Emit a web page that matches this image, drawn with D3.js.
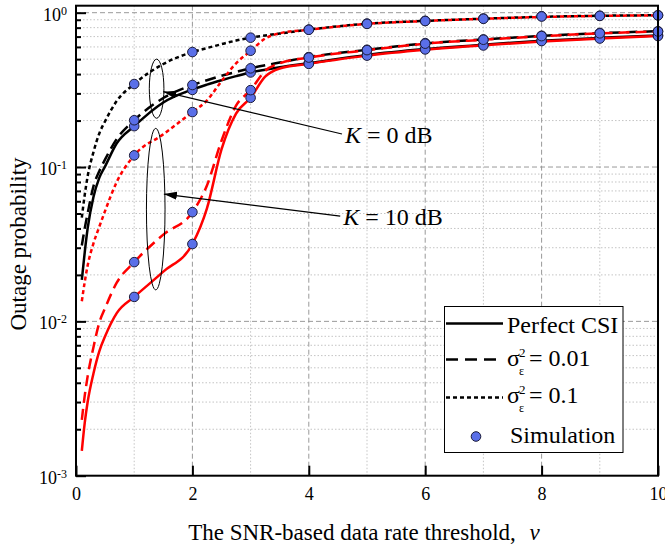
<!DOCTYPE html>
<html>
<head>
<meta charset="utf-8">
<script src="https://cdn.jsdelivr.net/npm/d3@7"></script>
<style>
body { margin: 0; background: #fff; }
svg text { font-family: "Liberation Serif", "Times New Roman", serif; fill: #000; }
</style>
</head>
<body>
<svg id="chart" width="665" height="548"></svg>
<script>
// threshold values where the analytical curves were read
var rate_x = [0.1, 0.15, 0.2, 0.3, 0.4, 0.5, 0.7, 1, 1.5, 2, 2.25, 2.5, 2.75, 3, 3.25, 3.5, 4, 5, 6, 7, 8, 9, 10];

// K = 0 dB
var k0_perfect = [0.0186, 0.028, 0.040, 0.064, 0.085, 0.101, 0.1425, 0.184, 0.262, 0.318, 0.342, 0.365, 0.388, 0.41, 0.427, 0.443, 0.471, 0.533, 0.581, 0.621, 0.658, 0.687, 0.713];
var k0_s001 = [0.031, 0.040, 0.050, 0.075, 0.094, 0.112, 0.152, 0.201, 0.28, 0.34, 0.365, 0.39, 0.413, 0.436, 0.456, 0.475, 0.516, 0.575, 0.632, 0.671, 0.707, 0.737, 0.758];
var k0_s01 = [0.047, 0.066, 0.087, 0.125, 0.165, 0.198, 0.268, 0.345, 0.465, 0.556, 0.59, 0.625, 0.66, 0.689, 0.712, 0.732, 0.777, 0.848, 0.885, 0.915, 0.94, 0.955, 0.963];

// K = 10 dB
var k10_perfect = [0.00145, 0.0022, 0.003, 0.0046, 0.0064, 0.008, 0.0113, 0.0144, 0.021, 0.0317, 0.054, 0.13, 0.222, 0.281, 0.385, 0.435, 0.466, 0.527, 0.575, 0.615, 0.651, 0.68, 0.706];
var k10_s001 = [0.0023, 0.0033, 0.0044, 0.0068, 0.0098, 0.0122, 0.0178, 0.0242, 0.0365, 0.051, 0.076, 0.148, 0.25, 0.315, 0.42, 0.47, 0.512, 0.572, 0.63, 0.668, 0.704, 0.734, 0.755];
var k10_s01 = [0.0135, 0.018, 0.023, 0.032, 0.041, 0.052, 0.08, 0.119, 0.163, 0.227, 0.27, 0.36, 0.47, 0.565, 0.68, 0.735, 0.775, 0.846, 0.883, 0.913, 0.938, 0.953, 0.961];

// simulation points
var sim_x = [1, 2, 3, 4, 5, 6, 7, 8, 9, 10];
var sim_k0_perfect = [0.184, 0.316, 0.41, 0.471, 0.533, 0.584, 0.619, 0.661, 0.686, 0.713];
var sim_k0_s001 = [0.201, 0.34, 0.436, 0.516, 0.575, 0.635, 0.671, 0.709, 0.739, 0.758];
var sim_k0_s01 = [0.345, 0.556, 0.689, 0.777, 0.85, 0.885, 0.917, 0.949, 0.955, 0.963];
var sim_k10_perfect = [0.0144, 0.0317, 0.281, 0.466, 0.527, 0.578, 0.613, 0.655, 0.68, 0.706];
var sim_k10_s001 = [0.0242, 0.051, 0.315, 0.512, 0.572, 0.63, 0.668, 0.705, 0.735, 0.755];
var sim_k10_s01 = [0.119, 0.227, 0.567, 0.775, 0.846, 0.883, 0.913, 0.945, 0.953, 0.961];

var x_ticks = [0, 2, 4, 6, 8, 10];
var x_minor = [1, 3, 5, 7, 9];
var y_ticks = [1e-3, 1e-2, 1e-1, 1];

// annotations: ellipse around curve groups, arrow tip, label anchor
var k_labels = ["0", "10"];
var ellipse_x = [1.385, 1.37];
var ellipse_top = [0.5, 0.178];
var ellipse_bottom = [0.207, 0.016];
var arrow_tip_x = [1.5, 1.51];
var arrow_tip_y = [0.308, 0.0668];
var label_x = [4.57, 4.54];
var label_y = [0.1637, 0.0481];

var legend_labels = ["Perfect CSI", "0.01", "0.1", "Simulation"];

var svg = d3.select("#chart");
var x = d3.scaleLinear().domain([0, 10]).range([76, 658]);
var y = d3.scaleLog().domain([1e-3, 1.11]).range([475.7, 5.7]);

function draw_grid() {
  var g = svg.append("g");
  var y_minor = y.ticks().filter(function(d) { return y_ticks.indexOf(d) == -1; });

  g.selectAll("line.xminor").data(x_minor).enter().append("line")
    .attr("x1", x).attr("x2", x).attr("y1", y(1.11)).attr("y2", y(1e-3))
    .attr("stroke", "#c4c4c4").attr("stroke-width", 1).attr("stroke-dasharray", "1.5,2");
  g.selectAll("line.yminor").data(y_minor).enter().append("line")
    .attr("x1", x(0)).attr("x2", x(10)).attr("y1", y).attr("y2", y)
    .attr("stroke", "#c4c4c4").attr("stroke-width", 1).attr("stroke-dasharray", "1.5,2");
  g.selectAll("line.xmajor").data([2, 4, 6, 8]).enter().append("line")
    .attr("x1", x).attr("x2", x).attr("y1", y(1.11)).attr("y2", y(1e-3))
    .attr("stroke", "#999").attr("stroke-width", 1).attr("stroke-dasharray", "5,3");
  g.selectAll("line.ymajor").data([1e-2, 1e-1, 1]).enter().append("line")
    .attr("x1", x(0)).attr("x2", x(10)).attr("y1", y).attr("y2", y)
    .attr("stroke", "#999").attr("stroke-width", 1).attr("stroke-dasharray", "5,3");
}

function draw_axes() {
  var y_minor = y.ticks().filter(function(d) { return y_ticks.indexOf(d) == -1; });

  var xa = svg.append("g").attr("transform", "translate(0," + y(1e-3) + ")")
    .call(d3.axisBottom(x).tickValues(x_ticks).tickSizeInner(-10).tickSizeOuter(0).tickPadding(12));
  xa.select(".domain").remove();
  xa.selectAll(".tick line").attr("stroke-width", 2);
  xa.selectAll(".tick text").attr("font-size", 18).attr("font-family", "Liberation Serif");

  var ym = svg.append("g").attr("transform", "translate(" + x(0) + ",0)")
    .call(d3.axisLeft(y).tickValues(y_minor).tickSizeInner(-5).tickSizeOuter(0).tickFormat(function() { return ""; }));
  ym.select(".domain").remove();
  ym.selectAll(".tick line").attr("stroke-width", 2);

  var ya = svg.append("g").attr("transform", "translate(" + x(0) + ",0)")
    .call(d3.axisLeft(y).tickValues(y_ticks).tickSizeInner(-10).tickSizeOuter(0).tickPadding(9)
      .tickFormat(function() { return ""; }));
  ya.select(".domain").remove();
  ya.selectAll(".tick line").attr("stroke-width", 2);
  ya.selectAll(".tick text").attr("font-size", 18).attr("font-family", "Liberation Serif").attr("dy", "0.42em")
    .each(function(d) {
      var t = d3.select(this);
      t.append("tspan").text("10");
      t.append("tspan").attr("dy", "-0.5em").attr("font-size", 12).text(Math.round(Math.log10(d)));
    });

  svg.append("rect")
    .attr("x", x(0)).attr("y", y(1.11))
    .attr("width", x(10) - x(0)).attr("height", y(1e-3) - y(1.11))
    .attr("fill", "none").attr("stroke", "#000").attr("stroke-width", 2);

  svg.append("text").attr("x", 364).attr("y", 540).attr("text-anchor", "middle").attr("font-size", 23)
    .text("The SNR-based data rate threshold,")
    .append("tspan").attr("dx", "0.6em").attr("font-style", "italic").text("v");

  svg.append("text").attr("transform", "translate(26,244) rotate(-90)").attr("text-anchor", "middle")
    .attr("font-size", 23).text("Outage probability");
}

function draw_curves() {
  var series = [
    { values: k0_perfect, color: "#000", dash: null },
    { values: k0_s001, color: "#000", dash: "11,6" },
    { values: k0_s01, color: "#000", dash: "4,3" },
    { values: k10_perfect, color: "#f00", dash: null },
    { values: k10_s001, color: "#f00", dash: "11,6" },
    { values: k10_s01, color: "#f00", dash: "4,3" }
  ];
  var line = d3.line()
    .x(function(d, i) { return x(rate_x[i]); })
    .y(function(d) { return y(d); })
    .curve(d3.curveMonotoneX);

  svg.append("g").selectAll("path").data(series).enter().append("path")
    .attr("d", function(s) { return line(s.values); })
    .attr("fill", "none")
    .attr("stroke", function(s) { return s.color; })
    .attr("stroke-width", 2.5)
    .attr("stroke-dasharray", function(s) { return s.dash; });

  var sims = [sim_k0_perfect, sim_k0_s001, sim_k0_s01, sim_k10_perfect, sim_k10_s001, sim_k10_s01];
  var g = svg.append("g");
  for (var i = 0; i < sims.length; i++) {
    g.selectAll(null).data(sims[i]).enter().append("circle")
      .attr("cx", function(d, j) { return x(sim_x[j]); })
      .attr("cy", function(d) { return y(d); })
      .attr("r", 4.8)
      .attr("fill", "#5a6fe8")
      .attr("stroke", "#1c1c3a")
      .attr("stroke-width", 1);
  }
}

function draw_annotations() {
  svg.append("defs").append("marker")
    .attr("id", "arrow").attr("markerUnits", "userSpaceOnUse")
    .attr("markerWidth", 14).attr("markerHeight", 10)
    .attr("refX", 13).attr("refY", 4).attr("orient", "auto")
    .append("path").attr("d", "M0,0 L13,4 L0,8 Z").attr("fill", "#000");

  var g = svg.append("g");
  for (var i = 0; i < k_labels.length; i++) {
    var top = y(ellipse_top[i]), bottom = y(ellipse_bottom[i]);
    g.append("ellipse")
      .attr("cx", x(ellipse_x[i])).attr("cy", (top + bottom) / 2)
      .attr("rx", i == 0 ? 7.3 : 9.3).attr("ry", (bottom - top) / 2)
      .attr("fill", "none").attr("stroke", "#000").attr("stroke-width", 1);

    g.append("line")
      .attr("x1", x(label_x[i])).attr("y1", y(label_y[i]))
      .attr("x2", x(arrow_tip_x[i])).attr("y2", y(arrow_tip_y[i]))
      .attr("stroke", "#000").attr("stroke-width", 1.2)
      .attr("marker-end", "url(#arrow)");

    var t = g.append("text")
      .attr("x", x(label_x[i]) + 3).attr("y", y(label_y[i]) + 9)
      .attr("font-size", 24);
    t.append("tspan").attr("font-style", "italic").text("K");
    t.append("tspan").text(" = " + k_labels[i] + " dB");
  }
}

function draw_legend() {
  var g = svg.append("g");
  g.append("rect").attr("x", 444.5).attr("y", 306.5).attr("width", 178.5).attr("height", 146)
    .attr("fill", "#fff").attr("stroke", "#000").attr("stroke-width", 1);

  var rows = [323.5, 359.5, 397.5];
  var dashes = [null, "12,7", "4,3"];
  for (var i = 0; i < rows.length; i++) {
    g.append("line").attr("x1", 446).attr("x2", 503).attr("y1", rows[i]).attr("y2", rows[i])
      .attr("stroke", "#000").attr("stroke-width", 2.5).attr("stroke-dasharray", dashes[i]);
  }
  g.append("text").attr("x", 507).attr("y", 332.5).attr("font-size", 24).text(legend_labels[0]);

  var bases = [366, 403];
  for (var j = 0; j < bases.length; j++) {
    g.append("text").attr("x", 507).attr("y", bases[j]).attr("font-size", 24).text("σ");
    g.append("text").attr("x", 519).attr("y", bases[j] - 9).attr("font-size", 13).text("2");
    g.append("text").attr("x", 519).attr("y", bases[j] + 9).attr("font-size", 12).text("ε");
    g.append("text").attr("x", 529).attr("y", bases[j]).attr("font-size", 24).text("= " + legend_labels[j + 1]);
  }

  g.append("circle").attr("cx", 476).attr("cy", 436.5).attr("r", 4.8)
    .attr("fill", "#5a6fe8").attr("stroke", "#1c1c3a").attr("stroke-width", 1);
  g.append("text").attr("x", 510).attr("y", 442.5).attr("font-size", 24).text(legend_labels[3]);
}

draw_grid();
draw_curves();
draw_annotations();
draw_axes();
draw_legend();
</script>
</body>
</html>
